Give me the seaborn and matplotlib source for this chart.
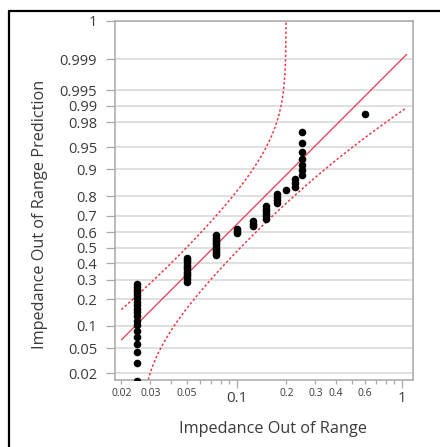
import numpy as np
import pandas as pd
import matplotlib
matplotlib.use("Agg")
import matplotlib.pyplot as plt
import seaborn as sns
from statistics import NormalDist
from matplotlib.lines import Line2D
from matplotlib.ticker import FixedLocator, FixedFormatter, NullLocator

# ==============================
# DATA
# ==============================

# observed values and how many rows share each value
imp_values = [0.025, 0.05, 0.075, 0.1, 0.125, 0.15, 0.175, 0.2, 0.225, 0.25, 0.6]
imp_counts = [19, 11, 10, 3, 3, 6, 4, 1, 3, 7, 1]

# lognormal fit
fit_median = 0.0723
fit_sigma = 0.851
band_k = 3.0
fit_x_range = [0.02, 1.07]

y_ticks = [0.02, 0.05, 0.1, 0.2, 0.3, 0.4, 0.5, 0.6, 0.7, 0.8, 0.9,
           0.95, 0.98, 0.99, 0.995, 0.999, 0.9999]
y_tick_labels = ["0.02", "0.05", "0.1", "0.2", "0.3", "0.4", "0.5", "0.6", "0.7",
                 "0.8", "0.9", "0.95", "0.98", "0.99", "0.995", "0.999", "1"]

x_major = [0.1, 1]
x_major_labels = ["0.1", "1"]
x_minor = [0.02, 0.03, 0.04, 0.05, 0.06, 0.07, 0.08, 0.09,
           0.2, 0.3, 0.4, 0.5, 0.6, 0.7, 0.8, 0.9]
x_minor_labels = ["0.02", "0.03", "", "0.05", "", "", "", "",
                  "0.2", "0.3", "0.4", "", "0.6", "", "", ""]

RED = "#e8394a"
GRAY_TXT = "#3a3a3a"
SPINE = "#a8a8a8"

# ==============================
# NORMAL PROBABILITY SCALE
# ==============================

nd = NormalDist()
_ppf = np.vectorize(nd.inv_cdf, otypes=[float])
_cdf = np.vectorize(nd.cdf, otypes=[float])


def prob_fwd(p):
    p = np.clip(np.asarray(p, dtype=float), 1e-12, 1 - 1e-12)
    return _ppf(p)


def prob_inv(z):
    return _cdf(np.asarray(z, dtype=float))


# plotting positions i/(n+1)
x_sorted = np.repeat(imp_values, imp_counts)
n = len(x_sorted)
df = pd.DataFrame({"x": x_sorted, "p": np.arange(1, n + 1) / (n + 1)})

# fitted cdf and bands
xf = np.geomspace(fit_x_range[0], fit_x_range[1], 1200)
pf = prob_inv((np.log(xf) - np.log(fit_median)) / fit_sigma)
half = band_k * np.sqrt(pf * (1 - pf) / n)
p_up = np.clip(pf + half, 1e-9, 1 - 1e-9)
p_lo = np.clip(pf - half, 1e-9, 1 - 1e-9)

# ==============================
# PLOT
# ==============================

sns.set_theme(style="white")
plt.rcParams["font.family"] = ["Open Sans", "DejaVu Sans"]

fig = plt.figure(figsize=(4.4, 4.47), dpi=100)
ax = fig.add_axes([114.7 / 440, 67 / 447, 298.6 / 440, 359.3 / 447])

sns.lineplot(x=xf, y=pf, ax=ax, color=RED, lw=0.9, estimator=None, sort=False)
sns.lineplot(x=xf, y=p_up, ax=ax, color=RED, lw=1.1, estimator=None, sort=False,
             linestyle=(0, (1.6, 1.4)))
sns.lineplot(x=xf, y=p_lo, ax=ax, color=RED, lw=1.1, estimator=None, sort=False,
             linestyle=(0, (1.6, 1.4)))
sns.scatterplot(data=df, x="x", y="p", ax=ax, color="black", s=30,
                linewidth=0, zorder=3)

ax.set_xscale("log")
ax.set_yscale("function", functions=(prob_fwd, prob_inv))
ax.set_xlim(0.01823, 1.175)
ax.set_ylim(0.0151, 0.9999)

ax.yaxis.set_major_locator(FixedLocator(y_ticks))
ax.yaxis.set_major_formatter(FixedFormatter(y_tick_labels))
ax.yaxis.set_minor_locator(NullLocator())

ax.xaxis.set_major_locator(FixedLocator(x_major))
ax.xaxis.set_major_formatter(FixedFormatter(x_major_labels))
ax.xaxis.set_minor_locator(FixedLocator(x_minor))
ax.xaxis.set_minor_formatter(FixedFormatter(x_minor_labels))

ax.tick_params(axis="y", which="major", length=6.2, width=0.9, color=SPINE,
               labelsize=10.5, labelcolor=GRAY_TXT, pad=6.5, left=True)
ax.tick_params(axis="x", which="major", length=6, width=0.9, color=SPINE,
               labelsize=10.8, labelcolor=GRAY_TXT, pad=2, bottom=True)
ax.tick_params(axis="x", which="minor", length=3, width=0.9, color=SPINE,
               labelsize=7.5, labelcolor=GRAY_TXT, pad=3, bottom=True)

ax.grid(axis="y", which="major", color="#dadada", lw=1.2)
ax.set_axisbelow(True)
for s in ax.spines.values():
    s.set_color(SPINE)
    s.set_linewidth(1.1)

ax.set_xlabel("Impedance Out of Range", fontsize=11.7, color=GRAY_TXT)
ax.set_ylabel("Impedance Out of Range Prediction", fontsize=11.7, color=GRAY_TXT)
ax.xaxis.set_label_coords(0.531, -0.115)
ax.yaxis.set_label_coords(-0.225, 0.462)

# outer frame (left and top edges visible)
fig.add_artist(Line2D([9 / 440, 9 / 440], [0, 1 - 10.7 / 447],
                      transform=fig.transFigure, color="black", lw=1.6))
fig.add_artist(Line2D([9 / 440, 1], [1 - 10.7 / 447, 1 - 10.7 / 447],
                      transform=fig.transFigure, color="black", lw=1.6))

fig.savefig("out.png", dpi=100, facecolor="white")
